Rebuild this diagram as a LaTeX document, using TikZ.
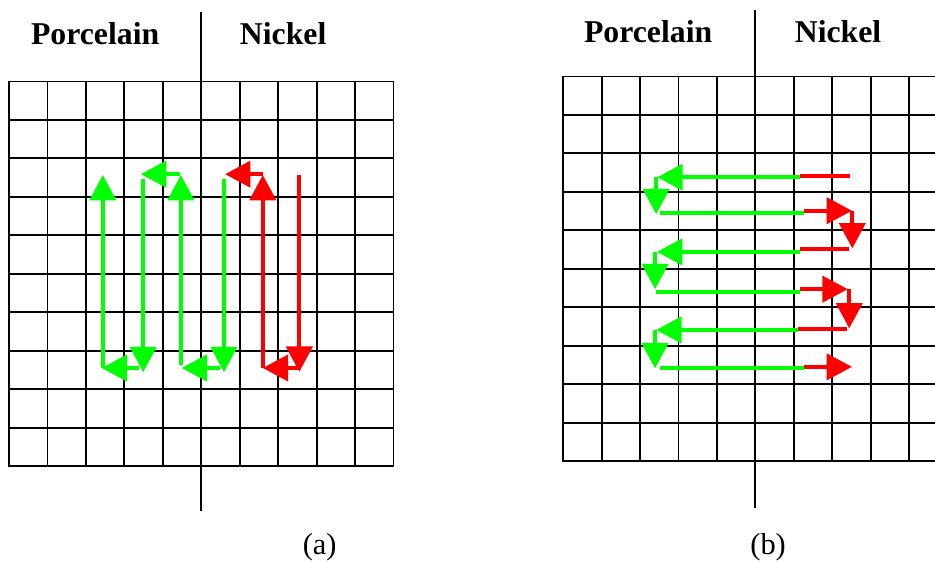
\documentclass[tikz,border=0pt]{standalone}
\usepackage{fontspec}
\setmainfont{Liberation Serif}
\usepackage{tikz}
\usetikzlibrary{arrows.meta}
\definecolor{sgreen}{HTML}{00FF00}
\definecolor{sred}{HTML}{FF0000}
\tikzset{
  >={Triangle[length=6.6mm,width=6.8mm]},
  sgrid/.style={black, line width=1.4pt, line cap=rect},
  sdiv/.style={black, line width=1.5pt},
  smat/.style={font=\fontsize{23.5}{27}\selectfont\bfseries, anchor=base},
  scap/.style={font=\fontsize{22.5}{26}\selectfont, anchor=base},
  sgo/.style={sgreen, line width=2.8pt},
  sni/.style={sred, line width=2.8pt},
}
\begin{document}
\begin{tikzpicture}[x=1cm,y=1cm]

  \useasboundingbox (-0.234,-2.47) rectangle (24.08,12.12);
  \clip (-0.234,-2.47) rectangle (24.08,12.12);

  % grids
  \draw[sgrid] (0,0) grid (10,10);
  \draw[sgrid, shift={(14.41,0.13)}] (0,0) grid (10,10);

  % interface lines
  \draw[sdiv] (5,-1.17) -- (5,11.81);
  \draw[sdiv] (19.41,-1.09) -- (19.41,11.86);

  % materials
  \node[smat] (porcA) at (2.24,10.95) {Porcelain};
  \node[smat] (nickA) at (7.13,10.95) {Nickel};
  \node[smat] (porcB) at (16.62,11.01) {Porcelain};
  \node[smat] (nickB) at (21.56,11.01) {Nickel};

  % captions
  \node[scap] (capA) at (8.08,-2.29) {(a)};
  \node[scap] (capB) at (19.74,-2.29) {(b)};

  % scan (a), columns from right to left
  \draw[sni,->] (7.55,7.57) -- (7.55,2.45);
  \draw[sni,->] (7.55,2.55) -- (6.6,2.55);
  \draw[sni,->] (6.6,2.55) -- (6.6,7.57);
  \draw[sni,->] (6.6,7.59) -- (5.62,7.59);
  \draw[sgo,->] (5.59,7.46) -- (5.59,2.44);
  \draw[sgo,->] (5.49,2.55) -- (4.49,2.55);
  \draw[sgo,->] (4.47,2.63) -- (4.47,7.57);
  \draw[sgo,->] (4.45,7.59) -- (3.43,7.59);
  \draw[sgo,->] (3.49,7.46) -- (3.49,2.44);
  \draw[sgo,->] (3.39,2.55) -- (2.41,2.55);
  \draw[sgo,->] (2.44,2.55) -- (2.44,7.57);

  % scan (b), rows from top to bottom
  \draw[sni] (21.86,7.55) -- (20.57,7.55);
  \draw[sgo,->] (20.57,7.51) -- (16.86,7.51);
  \draw[sgo,->] (16.83,7.51) -- (16.83,6.55);
  \draw[sgo] (16.93,6.59) -- (20.68,6.59);
  \draw[sni,->] (20.68,6.64) -- (21.92,6.64);
  \draw[sni,->] (21.93,6.64) -- (21.93,5.66);
  \draw[sni] (21.85,5.64) -- (20.57,5.64);
  \draw[sgo,->] (20.57,5.57) -- (16.85,5.57);
  \draw[sgo,->] (16.80,5.57) -- (16.80,4.60);
  \draw[sgo] (16.83,4.53) -- (20.57,4.53);
  \draw[sni,->] (20.57,4.60) -- (21.81,4.60);
  \draw[sni,->] (21.85,4.60) -- (21.85,3.58);
  \draw[sni] (21.80,3.56) -- (20.53,3.56);
  \draw[sgo,->] (20.53,3.54) -- (16.83,3.54);
  \draw[sgo,->] (16.80,3.54) -- (16.80,2.54);
  \draw[sgo] (16.93,2.54) -- (20.68,2.54);
  \draw[sni,->] (20.68,2.58) -- (21.92,2.58);

\end{tikzpicture}
\end{document}
